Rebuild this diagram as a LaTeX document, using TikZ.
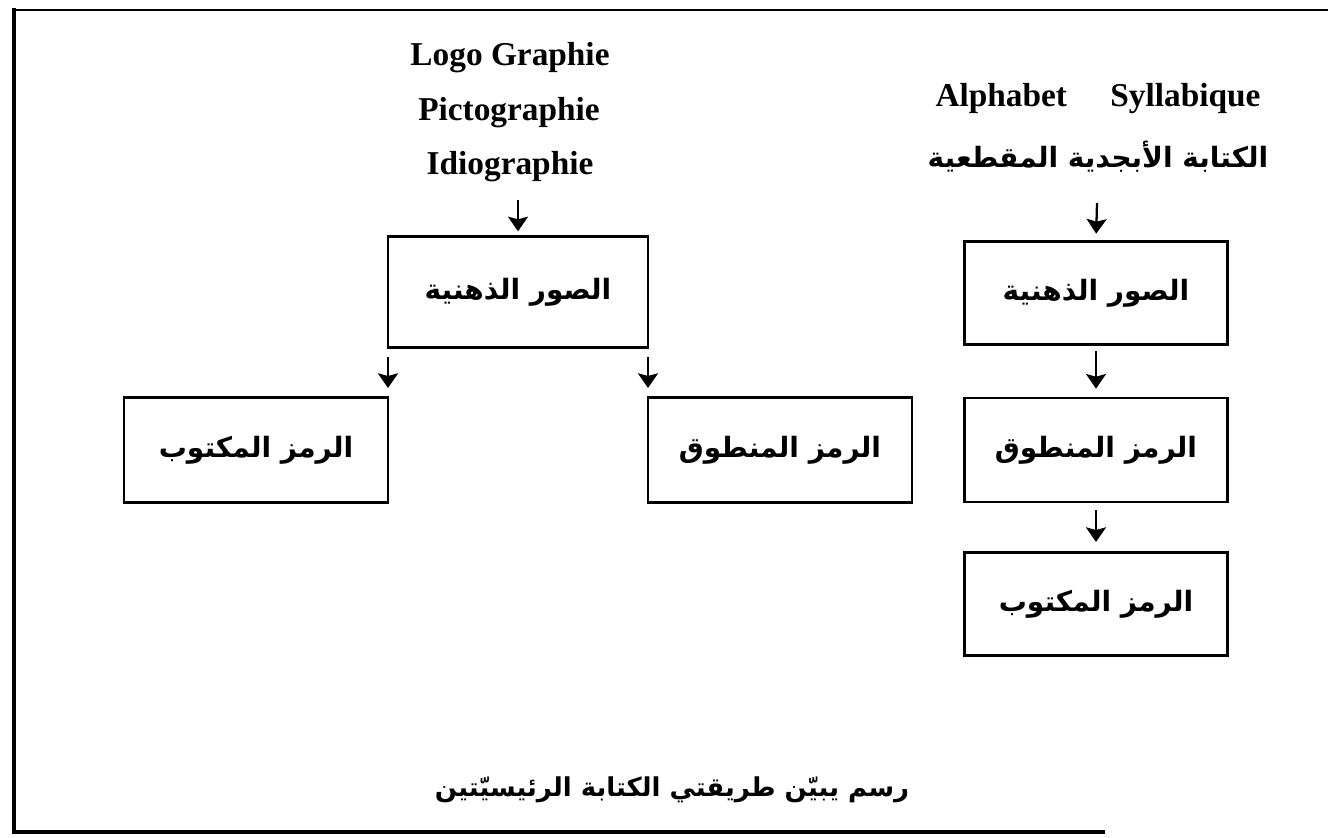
\documentclass[tikz,border=0pt]{standalone}
\usepackage{fontspec}
\setmainfont{Liberation Serif}
\newfontfamily\arabicfont[Script=Arabic]{DejaVu Sans}
\TeXXeTstate=1
\usetikzlibrary{arrows.meta}
\newcommand{\artxt}[1]{{\arabicfont\bfseries\beginR #1\endR}}
\begin{document}
\begin{tikzpicture}[x=0.75pt,y=-0.75pt,
  box/.style={draw, line width=2.2pt, minimum width=198pt, minimum height=79pt, inner sep=0pt, outer sep=0pt,
    font=\fontsize{21}{24}\selectfont},
  lat/.style={font=\bfseries\fontsize{25}{28}\selectfont, inner sep=0pt},
  arb/.style={font=\fontsize{21}{25}\selectfont, inner sep=0pt},
  arr/.style={line width=1.7pt, -{Stealth[length=11pt,width=15pt,inset=2pt]}},
  frame/.style={line width=3.5pt}]
\useasboundingbox (0,0) rectangle (1328,838);
% frame
\draw[line width=2pt] (14,10) -- (1328,10);
\draw[frame] (14,8) -- (14,832) -- (1105,832);
% left diagram
\node[lat] (logo) at (510,58) {Logo Graphie};
\node[lat] (picto) at (509,113) {Pictographie};
\node[lat] (idio) at (510,167) {Idiographie};
\node[box, minimum width=195pt, minimum height=83pt] (img1) at (518,292) {\artxt{الصور الذهنية}};
\node[box] (wrt1) at (256,450) {\artxt{الرمز المكتوب}};
\node[box] (spk1) at (780,450) {\artxt{الرمز المنطوق}};
\coordinate (a1) at (518,200);
\draw[arr, shorten >=4pt] (a1) -- (img1.north);
\draw[arr, shorten <=7pt, shorten >=7pt] (img1.south west) -- (wrt1.north east);
\draw[arr, shorten <=7pt, shorten >=7pt] (img1.south east) -- (spk1.north west);
% right diagram
\node[lat] (alpha) at (1098,99) {Alphabet\hspace{1.3em}Syllabique};
\node[arb] (abj) at (1098,157) {\artxt{الكتابة الأبجدية المقطعية}};
\node[box, minimum width=197pt, minimum height=77pt] (img2) at (1096,293) {\artxt{الصور الذهنية}};
\node[box, minimum width=197pt, minimum height=78pt] (spk2) at (1096,450) {\artxt{الرمز المنطوق}};
\node[box, minimum width=197pt, minimum height=77pt] (wrt2) at (1096,604) {\artxt{الرمز المكتوب}};
\coordinate (a2) at (1097,203);
\draw[arr, shorten >=6pt] (a2) -- (img2.north);
\draw[arr, shorten <=5pt, shorten >=7pt] (img2) -- (spk2);
\draw[arr, shorten <=6pt, shorten >=8pt] (spk2) -- (wrt2);
% caption
\node[arb, font=\fontsize{19.5}{24}\selectfont] (cap) at (672,790) {\artxt{رسم يبيّن طريقتي الكتابة الرئيسيّتين}};
\end{tikzpicture}
\end{document}
